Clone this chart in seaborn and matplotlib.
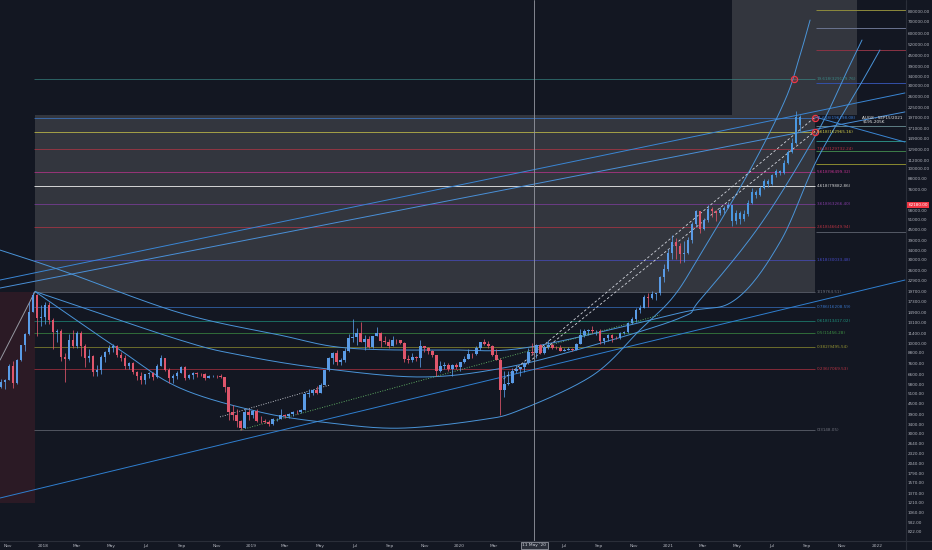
import numpy as np
import pandas as pd
import matplotlib
matplotlib.use("Agg")
import matplotlib.pyplot as plt
import matplotlib.dates as mdates
import matplotlib.ticker as mticker
import matplotlib.transforms as mtrans
import seaborn as sns

BG = "#131722"
TXT = "#b2b5be"
UP = "#5a9be6"
DOWN = "#e0566c"
PROJ = "#4a97e0"

# --- weekly BTC candles (week starts on Monday) ---
WEEK0 = "2017-10-16"
OPEN0 = 5600
CLOSE_2017 = [5950, 6130, 7380, 5860, 8000, 9700, 11300, 15000, 19000, 13900, 14150]
HIGH_2017 = [6200, 6200, 7600, 7900, 8100, 9800, 11400, 17200, 19764.51, 19200, 16500]
LOW_2017 = [5500, 5450, 6100, 5500, 5800, 7900, 9000, 11100, 15000, 11000, 12500]

CLOSE_2018 = [16480, 13600, 11560, 11790, 8270, 8070, 10380, 9590, 11490, 9550, 8210, 8450, 6840,
              7020, 8340, 8880, 9350, 9660, 8510, 8230, 7360, 7720, 6770, 6480, 6150, 6620,
              6740, 6350, 7400, 8220, 7030, 6280, 6490, 6710, 7310, 6300, 6510, 6710, 6630,
              6600, 6310, 6450, 6480, 6420, 6360, 5560, 4010, 3870, 3560, 3250, 3990, 3850]
HIGH_2018 = [17200, 17100, 14000, 12000, 12000, 8800, 11200, 11800, 11700, 11700, 9900, 9200, 8500,
             7500, 8500, 9000, 9800, 9900, 9700, 8900, 8500, 7800, 7800, 6900, 6800, 6650,
             6850, 6800, 7600, 8500, 8250, 7150, 6600, 6900, 7400, 7400, 6600, 6800, 6800,
             6700, 6700, 6550, 6550, 6550, 6600, 6380, 5600, 4400, 4150, 3600, 4250, 4200]
LOW_2018 = [12800, 12800, 9200, 10200, 7900, 6000, 8000, 9300, 9400, 8400, 7300, 7800, 6450,
            6500, 6600, 7800, 8700, 8900, 8300, 7900, 7100, 7050, 6650, 6100, 5800, 5800,
            6300, 6100, 6300, 7400, 6900, 5900, 5900, 6250, 6700, 6150, 6180, 6200, 6400,
            6500, 6150, 6300, 6400, 6300, 6330, 5200, 3600, 3600, 3300, 3148.05, 3250, 3600]

CLOSE_2019 = [4060, 3550, 3540, 3530, 3410, 3660, 3670, 3850, 3810, 3930, 4010, 3990, 4110,
              5060, 5170, 5340, 5190, 5760, 6970, 8200, 8740, 7820, 7950, 8990, 10750, 10820,
              11470, 10200, 10590, 9530, 10980, 11390, 10230, 10140, 9630, 10400, 10360, 10060, 8060,
              7990, 8320, 8220, 9550, 9310, 9040, 8500, 6900, 7420, 7510, 7080, 7510, 7300]
HIGH_2019 = [4100, 4150, 3800, 3650, 3600, 3700, 3700, 4200, 3900, 3950, 4050, 4100, 4150,
             5200, 5450, 5450, 5650, 5900, 7000, 8300, 8900, 9100, 8200, 9300, 11200, 13800,
             12200, 13200, 11100, 10900, 11000, 12300, 11500, 10900, 10600, 10900, 10500, 10300, 10100,
             8500, 8800, 8400, 10400, 9500, 9500, 9100, 8500, 7900, 7800, 7700, 7600, 7700]
LOW_2019 = [3700, 3500, 3480, 3450, 3350, 3380, 3580, 3650, 3700, 3720, 3800, 3930, 3940,
            4100, 4900, 5050, 5100, 5200, 5700, 6900, 7600, 7500, 7500, 7800, 8900, 10200,
            9700, 10100, 9100, 9300, 9400, 10900, 9500, 9900, 9400, 9600, 9900, 9900, 7800,
            7700, 7800, 7900, 7300, 8900, 8700, 8350, 6500, 6850, 7100, 6900, 6450, 7100]

CLOSE_2020 = [7760, 8110, 8700, 8600, 9330, 10120, 9920, 9660, 8530, 8030, 5360, 5830, 5880,
              6860, 7100, 7260, 7700, 8900, 8730, 9680, 8720, 9450, 9760, 9340, 9300, 9010,
              9070, 9240, 9170, 9930, 11060, 11680, 11910, 11650, 11680, 10250, 10680, 11080, 10730,
              10670, 11380, 11500, 13030, 13800, 15480, 15960, 18400, 18180, 19150, 19270, 23850, 26490, 33000]
HIGH_2020 = [7800, 8450, 9200, 8800, 9600, 10200, 10500, 10300, 9700, 9200, 8200, 6900, 6900,
             7200, 7500, 7300, 7800, 9400, 10000, 9900, 9900, 9700, 10400, 10000, 9600, 9800,
             9300, 9450, 9350, 9990, 12000, 12000, 12000, 12450, 11900, 12100, 10700, 11200, 11200,
             10950, 11500, 11700, 13250, 14100, 15950, 16500, 18800, 19400, 19900, 19450, 24300, 28400, 34800]
LOW_2020 = [6900, 7700, 8050, 8250, 8500, 9100, 9700, 9300, 8450, 8000, 3850, 4900, 5700,
            5900, 6700, 6500, 6800, 7600, 8500, 8200, 8700, 8650, 9250, 9200, 9250, 8950,
            8950, 9100, 9050, 9150, 9900, 10800, 11150, 11350, 11150, 9900, 9900, 10300, 10150,
            10500, 10550, 11200, 11400, 12900, 13250, 14800, 15950, 16200, 17800, 17600, 19000, 22300, 25900]

CLOSE_2021 = [38150, 36070, 32290, 33110, 38900, 48580, 57540, 45140, 50970, 59020, 57350, 55820, 57950, 59800, 62180]
HIGH_2021 = [41950, 40100, 37800, 38500, 40900, 49700, 58300, 57500, 52600, 61700, 60500, 58400, 60200, 61200, 64800]
LOW_2021 = [30200, 30400, 28850, 29300, 32300, 37400, 46200, 43000, 44900, 49300, 53300, 50400, 54600, 55500, 59700]

# projected bars pattern (drawing, one colour)
PROJ_WEEK0 = "2021-04-19"
PROJ_CLOSE = [50000, 56000, 51500, 55000, 64000, 74000, 71000, 78000, 85000, 82000, 92000, 97000,
              95000, 108000, 125000, 142000, 200000, 178000]
PROJ_HIGH = [62500, 58000, 57000, 58000, 66000, 78000, 76000, 80000, 88000, 88000, 94000, 100000,
             99000, 112000, 128000, 150000, 215000, 205000]
PROJ_LOW = [47000, 48000, 48500, 50000, 54000, 63000, 68000, 70000, 77000, 79000, 81000, 90000,
            92000, 94000, 107000, 123000, 140000, 165000]

# --- fib extension from the 2017 top to the 2018 low ---
FIB_LOW = 3148.05
FIB_HIGH = 19764.51
FIB_START = "2017-12-17"
FIB_END = "2021-09-15"
FIB_LEVELS = [0, 0.236, 0.382, 0.5, 0.618, 0.786, 1, 1.618, 2.618, 3.618, 4.618, 5.618, 7.618, 9.618, 11.618, 19.618]
FIB_COLORS = ["#787b86", "#c93546", "#a3a232", "#43a047", "#1f9d87", "#3b7dd8", "#787b86", "#4b4fd6",
              "#c93546", "#8e3fb0", "#e6e6e6", "#d4349b", "#c93546", "#e8e24c", "#3d86e6", "#3a8f8c"]

# short levels on the far right
EXT_PRICES = [820000, 646000, 483000, 312000, 177000, 145000, 127000, 107000, 43500]
EXT_COLORS = ["#8d8a3c", "#6a7390", "#8a3345", "#3450a8", "#5f7f86", "#2a8a80", "#3e7f4a", "#8a8a30", "#555a66"]

# drawings, anchors as (decimal year, price)
ARC_A_T = [2017.794, 2018.082, 2018.657, 2019.137, 2019.458, 2019.952, 2020.336, 2021.055, 2021.319, 2021.535, 2021.712, 2021.933, 2022.014]
ARC_A_P = [34200, 26300, 14900, 11100, 9360, 9120, 9480, 14900, 17700, 38000, 113000, 325000, 483000]
ARC_B_T = [2017.962, 2018.657, 2018.945, 2019.329, 2019.808, 2020.206, 2020.609, 2021.055, 2021.151, 2021.439, 2021.712, 2021.847, 2021.928]
ARC_B_P = [19764, 10400, 8530, 7180, 6380, 7180, 9480, 13920, 17700, 47600, 161000, 347000, 551000]
ARC_C_T = [2017.962, 2018.369, 2018.657, 2019.041, 2019.376, 2019.712, 2020.096, 2020.288, 2020.638, 2020.863, 2021.022, 2021.151, 2021.391, 2021.559, 2021.631, 2021.679]
ARC_C_P = [19764, 9120, 5510, 4010, 3470, 3240, 3610, 4120, 6540, 11880, 18370, 32000, 98700, 249000, 452000, 718000]

TREND_T = [(2017.794, 2022.134), (2017.794, 2022.134), (2017.794, 2022.134), (2021.703, 2022.134), (2017.794, 2017.962)]
TREND_P = [(1286, 23010), (23010, 273500), (20700, 212800), (199000, 142900), (7980, 19764)]
TREND_COLORS = ["#2f7fd0", "#3a86d4", "#4a90d8", "#3a86d4", "#9598a1"]

DASH_T = [(2020.192, 2021.703), (2020.312, 2021.703)]
DASH_P = [(5970, 199000), (7470, 165000)]
DOT_T = [(2018.849, 2019.376), (2018.945, 2020.959)]
DOT_P = [(3760, 5740), (3160, 14490)]
DOT_COLORS = ["#d1d4dc", "#66bb6a"]

CIRCLE_T = [2021.602, 2021.703, 2021.703]
CIRCLE_P = [329130, 196200, 162970]

NOTE = "AUG8 - SEP15/2021\n$195-205K"
CROSS_DATE = "2020-05-11"

PRICE_TICKS = [822, 932, 1060, 1210, 1370, 1570, 1790, 2040, 2320, 2640, 3000, 3400, 3900, 4500, 5100,
               5800, 6600, 7600, 8800, 10000, 11400, 13100, 14900, 17300, 19700, 22900, 26000, 30000,
               34000, 39000, 45000, 51000, 58000, 76000, 88000, 100000, 112000, 129000, 149000, 171000,
               197000, 225000, 260000, 300000, 340000, 390000, 450000, 520000, 600000, 700000, 800000]
TIME_TICKS = pd.date_range("2017-11-01", "2022-01-01", freq="2MS")
TIME_LABELS = ["Nov", "2018", "Mar", "May", "Jul", "Sep", "Nov", "2019", "Mar", "May", "Jul", "Sep", "Nov",
               "2020", "Mar", "", "Jul", "Sep", "Nov", "2021", "Mar", "May", "Jul", "Sep", "Nov", "2022"]


def ydate(years):
    years = np.atleast_1d(np.asarray(years, dtype=float))
    d = pd.Timestamp("2017-01-01") + pd.to_timedelta((years - 2017) * 365.25, unit="D")
    return mdates.date2num(d.to_pydatetime())


def smooth(xs, ys, n=30):
    # catmull-rom through the arc anchors (x in date nums, y in log10 price)
    pts = np.column_stack([xs, np.log10(ys)])
    p = np.vstack([2 * pts[0] - pts[1], pts, 2 * pts[-1] - pts[-2]])
    t = np.linspace(0, 1, n, endpoint=False)[:, None]
    out = []
    for i in range(1, len(p) - 2):
        p0, p1, p2, p3 = p[i - 1], p[i], p[i + 1], p[i + 2]
        out.append(0.5 * (2 * p1 + (-p0 + p2) * t + (2 * p0 - 5 * p1 + 4 * p2 - p3) * t ** 2
                          + (-p0 + 3 * p1 - 3 * p2 + p3) * t ** 3))
    out.append(pts[-1:])
    out = np.vstack(out)
    return out[:, 0], 10 ** out[:, 1]


def draw_candles(ax, week0, opens, closes, highs, lows, color=None):
    o = np.array(opens, float)
    c = np.array(closes, float)
    h = np.maximum(np.array(highs, float), np.maximum(o, c))
    lo = np.minimum(np.array(lows, float), np.minimum(o, c))
    x = mdates.date2num(pd.date_range(week0, periods=len(c), freq="7D").to_pydatetime()) + 3.5
    if color is None:
        cols = np.where(c >= o, UP, DOWN)
    else:
        cols = [color] * len(c)
    ax.vlines(x, lo, h, colors=cols, lw=0.55, zorder=4)
    ax.bar(x, np.maximum(np.abs(c - o), c * 0.006), bottom=np.minimum(o, c), width=4.2,
           color=cols, linewidth=0, zorder=4)


sns.set_style("dark", {"axes.facecolor": BG, "figure.facecolor": BG})

fig = plt.figure(figsize=(9.32, 5.5), dpi=100, facecolor=BG)
ax = fig.add_axes([0, 9 / 550, 906 / 932, 541 / 550])
ax.set_facecolor(BG)
ax.set_yscale("log")
ax.grid(False)

# boxes
f0, f1 = ydate([2017.962])[0], mdates.date2num(pd.Timestamp(FIB_END))
ax.fill_between([f0, f1], FIB_HIGH, 205000, color="#9a9a9a", alpha=0.24, lw=0, zorder=0)
b0 = mdates.date2num(pd.Timestamp("2021-04-22"))
b1 = mdates.date2num(pd.Timestamp("2021-11-27"))
ax.fill_between([b0, b1], 205000, 3e6, color="#9a9a9a", alpha=0.24, lw=0, zorder=0)
p0 = mdates.date2num(pd.Timestamp("2017-09-01"))
ax.fill_between([p0, f0], 1200, FIB_HIGH, color="#f23645", alpha=0.11, lw=0, zorder=0)

# fib levels
fib_prices = [FIB_LOW + lv * (FIB_HIGH - FIB_LOW) for lv in FIB_LEVELS]
fs = mdates.date2num(pd.Timestamp(FIB_START))
lab_x = ydate([2021.712])[0]
for lv, pr, col in zip(FIB_LEVELS, fib_prices, FIB_COLORS):
    a = 0.9 if lv == 4.618 else 0.62
    ax.hlines(pr, fs, f1, colors=col, lw=0.7, alpha=a, zorder=1)
    ax.text(lab_x, pr, f"{lv:g}({pr:.2f})", color=col, fontsize=3.0, va="center", ha="left",
            alpha=0.9, zorder=6)

e0 = mdates.date2num(pd.Timestamp("2021-09-16"))
e1 = mdates.date2num(pd.Timestamp("2022-03-01"))
for pr, col in zip(EXT_PRICES, EXT_COLORS):
    ax.hlines(pr, e0, e1, colors=col, lw=0.7, zorder=1)

# trend lines and arcs
for ts, ps, col in zip(TREND_T, TREND_P, TREND_COLORS):
    sns.lineplot(x=ydate(ts), y=list(ps), ax=ax, color=col, lw=0.7, zorder=2)
for ts, ps in [(ARC_A_T, ARC_A_P), (ARC_B_T, ARC_B_P), (ARC_C_T, ARC_C_P)]:
    xs, ys = smooth(ydate(ts), ps)
    sns.lineplot(x=xs, y=ys, ax=ax, color="#4a94d8", lw=0.7, sort=False, estimator=None, zorder=2)
for ts, ps in zip(DASH_T, DASH_P):
    ax.plot(ydate(ts), ps, color="#d1d4dc", lw=0.6, ls=(0, (3, 2.5)), zorder=2)
for ts, ps, col in zip(DOT_T, DOT_P, DOT_COLORS):
    ax.plot(ydate(ts), ps, color=col, lw=0.6, ls=(0, (1.2, 1.8)), zorder=2)

# candles
real_close = CLOSE_2017 + CLOSE_2018 + CLOSE_2019 + CLOSE_2020 + CLOSE_2021
real_high = HIGH_2017 + HIGH_2018 + HIGH_2019 + HIGH_2020 + HIGH_2021
real_low = LOW_2017 + LOW_2018 + LOW_2019 + LOW_2020 + LOW_2021
draw_candles(ax, WEEK0, [OPEN0] + real_close[:-1], real_close, real_high, real_low)
draw_candles(ax, PROJ_WEEK0, [real_close[-1]] + PROJ_CLOSE[:-1], PROJ_CLOSE, PROJ_HIGH, PROJ_LOW, color=PROJ)

ax.plot(ydate(CIRCLE_T), CIRCLE_P, ls="none", marker="o", ms=4.5, mfc=(0.95, 0.21, 0.27, 0.25),
        mec="#f23645", mew=0.8, zorder=5)

ax.text(ydate([2021.93])[0], 192000, NOTE, color="#e6e6e6", fontsize=3.0, va="center", ha="left",
        linespacing=1.1, zorder=6)

# crosshair
cx = mdates.date2num(pd.Timestamp(CROSS_DATE))
ax.axvline(cx, color="#9598a1", lw=0.6, zorder=5)
tx = mtrans.blended_transform_factory(ax.transData, ax.transAxes)
ax.text(cx, -0.004, "11 May '20", transform=tx, ha="center", va="top", fontsize=3.2, color="#d1d4dc",
        bbox=dict(boxstyle="square,pad=0.35", fc="#2a2e39", ec="#d1d4dc", lw=0.4), clip_on=False, zorder=7)

# last price tag
ty = mtrans.blended_transform_factory(ax.transAxes, ax.transData)
ax.text(1.003, real_close[-1], f"{real_close[-1]:.2f}", transform=ty, ha="left", va="center", fontsize=3.0,
        color="white", bbox=dict(boxstyle="square,pad=0.3", fc="#f23645", ec="none"), clip_on=False, zorder=7)

# axes
ax.set_xlim(ydate([2017.7938])[0], ydate([2022.139])[0])
ax.set_ylim(728, 935900)
ax.yaxis.tick_right()
ax.yaxis.set_major_locator(mticker.FixedLocator(PRICE_TICKS))
ax.yaxis.set_major_formatter(mticker.FixedFormatter([f"{v:.2f}" for v in PRICE_TICKS]))
ax.yaxis.set_minor_locator(mticker.NullLocator())
ax.set_xticks(mdates.date2num(TIME_TICKS.to_pydatetime()))
ax.set_xticklabels(TIME_LABELS)
ax.tick_params(axis="y", colors=TXT, labelsize=3.0, length=0, pad=1.3)
ax.tick_params(axis="x", colors=TXT, labelsize=3.2, length=0, pad=2.2)
ax.set_xlabel("")
ax.set_ylabel("")
for s in ax.spines.values():
    s.set_visible(False)

fig.add_artist(plt.Line2D([906 / 932, 906 / 932], [0, 1], color="#2a2e39", lw=0.8))
fig.add_artist(plt.Line2D([0, 1], [9 / 550, 9 / 550], color="#2a2e39", lw=0.8))

fig.savefig("out.png", dpi=100, facecolor=BG)
